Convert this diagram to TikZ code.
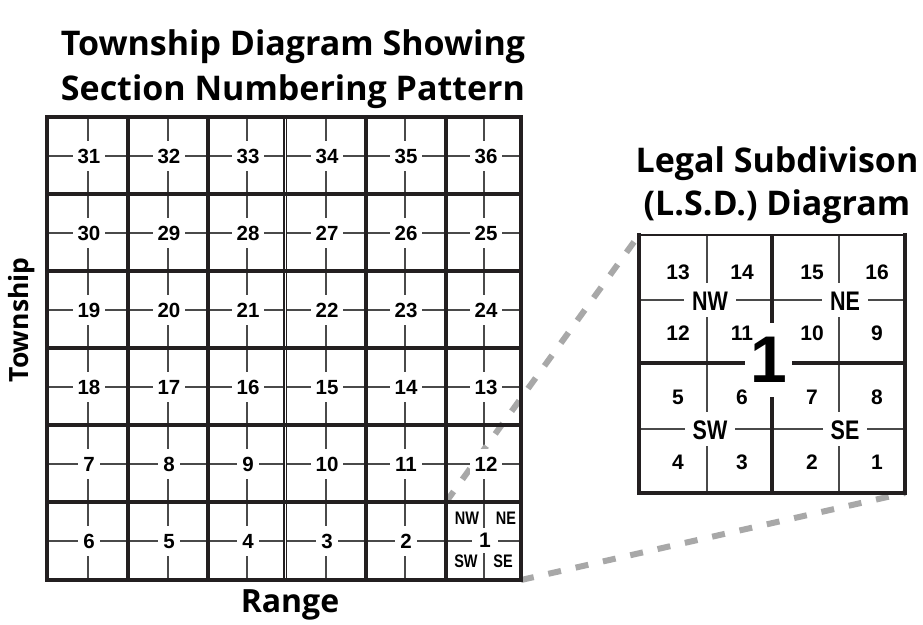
\documentclass[tikz,border=0pt]{standalone}
\usepackage{fontspec}
\setmainfont{Liberation Sans}
\newfontfamily\ttlfont{Open Sans}
\definecolor{ink}{HTML}{231F20}
\definecolor{thinink}{HTML}{4A4A4A}
\definecolor{dashgray}{HTML}{A8A8A8}
\begin{document}
\begin{tikzpicture}[x=1pt,y=-1pt,
  heavy/.style={draw=ink,line width=4pt},
  heavytop/.style={draw=ink,line width=2.6pt},
  hair/.style={draw=thinink,line width=1.3pt},
  linkdash/.style={draw=dashgray,line width=6pt,dash pattern=on 13pt off 15pt},
  sec/.style={fill=white,inner xsep=5pt,inner ysep=7.5pt,text height=14.5pt,text depth=0pt,
    font=\fontsize{20.5}{20.5}\selectfont\bfseries},
  lsdnum/.style={inner sep=0pt,font=\fontsize{21}{21}\selectfont\bfseries},
  quarter/.style={fill=white,inner xsep=8pt,inner ysep=7pt,text height=20pt,text depth=0pt,
    font=\fontsize{21.5}{21.5}\selectfont\bfseries},
  smallq/.style={inner sep=0pt,font=\fontsize{14.5}{14.5}\selectfont\bfseries},
  ttl/.style={font=\fontsize{34}{34}\selectfont\ttlfont\bfseries,inner sep=0pt,anchor=base},
  gapbox/.style={fill=white,inner sep=0pt},
]
\useasboundingbox[fill=white] (0,0) rectangle (923,624);

% ---------- titles ----------
\node[ttl] (title1) at (293,55) {Township Diagram Showing};
\node[ttl] (title2) at (293,100) {Section Numbering Pattern};
\node[ttl] (lsd1) at (777,172) {Legal Subdivison};
\node[ttl] (lsd2) at (777,215) {(L.S.D.) Diagram};
\node[ttl,rotate=90,font=\fontsize{26.5}{26.5}\selectfont\ttlfont\bfseries] (twp) at (28,320) {Township};
\node[ttl,font=\fontsize{32}{32}\selectfont\ttlfont\bfseries] (rng) at (290,612) {Range};

% ---------- township thin lines ----------
\foreach \x in {88,168,247,326,405,484} \draw[hair] (\x,117) -- (\x,580);
\foreach \y in {156,233,310,387,464,541} \draw[hair] (47,\y) -- (521,\y);

% ---------- LSD thin lines ----------
\foreach \x in {707,839} \draw[hair] (\x,235) -- (\x,493);
\foreach \y in {300,429} \draw[hair] (639,\y) -- (905,\y);

% ---------- link coordinates and dashed connectors ----------
\coordinate (cellNW) at (446,502);
\coordinate (cellSE) at (521,580);
\coordinate (lsdNW) at (639,235);
\coordinate (lsdSE) at (905,493);
\draw[linkdash] (cellNW) -- (lsdNW);
\draw[linkdash] (cellSE) -- (lsdSE);

% ---------- section numbers ----------
\foreach \x/\n in {89/31,169/32,248/33,327/34,406/35,486/36} \node[sec] (s\n) at (\x,156) {\n};
\foreach \x/\n in {89/30,169/29,248/28,327/27,406/26,486/25} \node[sec] (s\n) at (\x,233) {\n};
\foreach \x/\n in {89/19,169/20,248/21,327/22,406/23,486/24} \node[sec] (s\n) at (\x,310) {\n};
\foreach \x/\n in {89/18,169/17,248/16,327/15,406/14,486/13} \node[sec] (s\n) at (\x,387) {\n};
\foreach \x/\n in {89/7,169/8,248/9,327/10,406/11,486/12} \node[sec] (s\n) at (\x,464) {\n};
\foreach \x/\n in {89/6,169/5,248/4,327/3,406/2} \node[sec] (s\n) at (\x,541) {\n};
\node[fill=white,inner xsep=7pt,inner ysep=5pt,text height=15pt,text depth=0pt,
  font=\fontsize{21}{21}\selectfont\bfseries] (s1) at (485,540) {1};
\node[smallq] (s1nw) at (467,518) {\scalebox{1}[1.25]{NW}};
\node[smallq] (s1ne) at (506,518) {\scalebox{1}[1.25]{NE}};
\node[smallq] (s1sw) at (466,561) {\scalebox{1}[1.25]{SW}};
\node[smallq] (s1se) at (503,561) {\scalebox{1}[1.25]{SE}};

% ---------- LSD numbers ----------
\foreach \x/\n in {678/13,742/14,812/15,877/16} \node[lsdnum] (l\n) at (\x,272) {\n};
\foreach \x/\n in {678/12,742/11,812/10,877/9} \node[lsdnum] (l\n) at (\x,333) {\n};
\foreach \x/\n in {678/5,742/6,812/7,877/8} \node[lsdnum] (l\n) at (\x,397) {\n};
\foreach \x/\n in {678/4,742/3,812/2,877/1} \node[lsdnum] (l\n) at (\x,462) {\n};
\node[quarter] (qnw) at (710,300) {\scalebox{1}[1.25]{NW}};
\node[quarter] (qne) at (845,300) {\scalebox{1}[1.25]{NE}};
\node[quarter] (qsw) at (710,429) {\scalebox{1}[1.25]{SW}};
\node[quarter] (qse) at (845,429) {\scalebox{1}[1.25]{SE}};

% ---------- township heavy lines ----------
\foreach \x in {47,128,208,366,446,521} \draw[heavy] (\x,115) -- (\x,582);
\draw[draw=ink,line width=1.8pt,double=white,double distance=1pt] (285,117) -- (285,580);
\foreach \y in {117,194,271,348,425,502,580} \draw[heavy] (45,\y) -- (523,\y);

% ---------- LSD heavy lines ----------
\draw[heavytop] (639,235) -- (905,235);
\draw[heavy] (639,233) -- (639,495);
\draw[heavy] (905,233) -- (905,495);
\draw[heavy] (637,493) -- (907,493);
\draw[heavy] (772,235) -- (772,493);
\draw[heavy] (639,363) -- (905,363);
\node[gapbox,minimum width=47pt,minimum height=10pt] (gaph) at (768.5,363) {};
\node[gapbox,minimum width=10pt,minimum height=74pt] (gapv) at (772,360) {};
\node[inner sep=0pt,font=\fontsize{66}{66}\selectfont\bfseries] (big1) at (769,360) {1};
\end{tikzpicture}
\end{document}
